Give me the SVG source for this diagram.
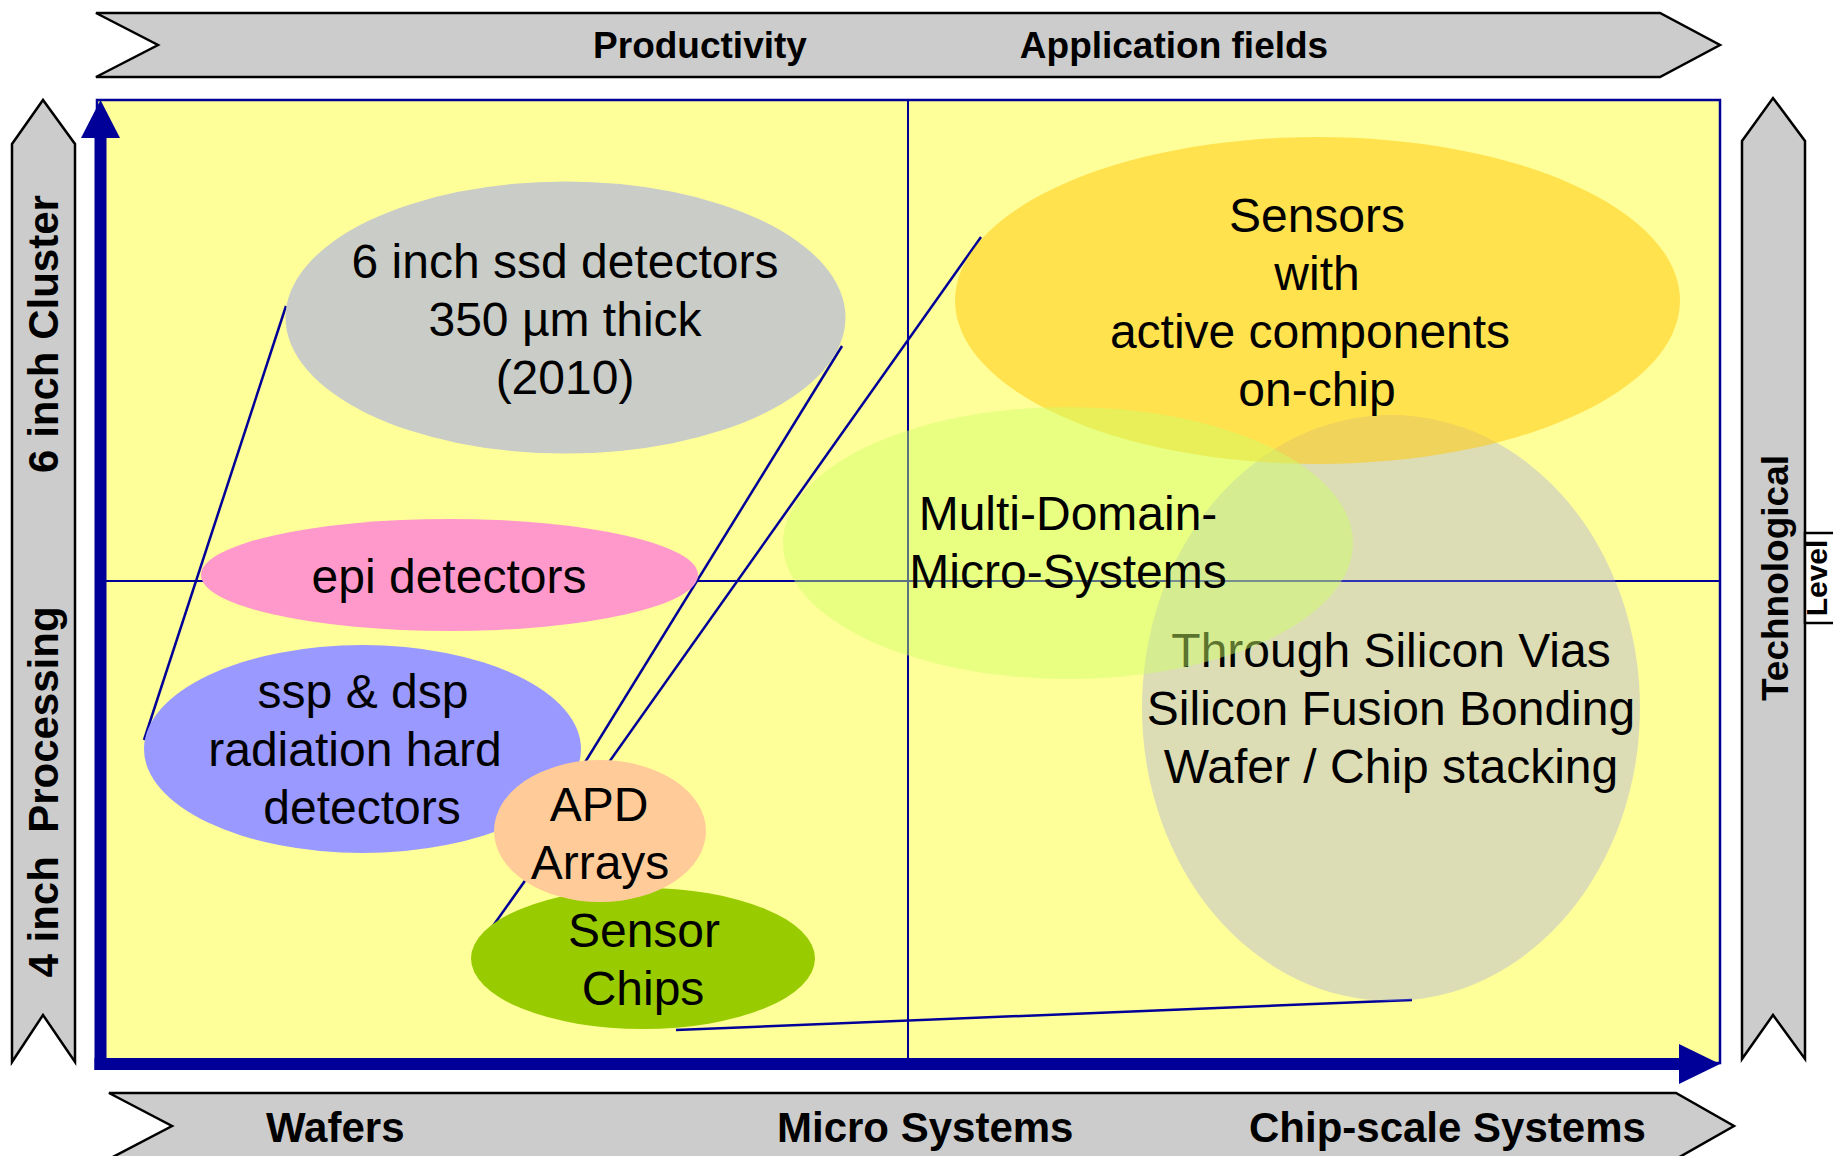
<svg xmlns="http://www.w3.org/2000/svg" width="1833" height="1156" viewBox="0 0 1833 1156">
<style>
.banner{fill:#CCCCCC;stroke:#000;stroke-width:2.5;stroke-linejoin:miter}
.bt{font-family:"Liberation Sans",Arial,Helvetica,sans-serif;font-weight:bold;fill:#000}
.lbl{font-family:"Liberation Sans",Arial,Helvetica,sans-serif;font-size:48px;fill:#000;text-anchor:middle}
.grid{stroke:#000099;stroke-width:2;fill:none}
.conn{stroke:#000099;stroke-width:2.5;fill:none}
.axis{stroke:#000099;stroke-width:12;fill:none}
.head{fill:#000099}
</style>
<rect width="1833" height="1156" fill="#FFFFFF"/>

<g id="banner-top">
<polygon class="banner" points="96,13 1660,13 1720,45 1660,77 96,77 158,45"/>
<text class="bt" font-size="37" x="700" y="58" text-anchor="middle">Productivity</text>
<text class="bt" font-size="37" x="1174" y="58" text-anchor="middle">Application fields</text>
</g>

<g id="banner-bottom">
<polygon class="banner" points="109,1093 1676,1093 1734,1126 1676,1159 109,1159 172,1126"/>
<text class="bt" font-size="42" x="266" y="1142">Wafers</text>
<text class="bt" font-size="42" x="777" y="1142">Micro Systems</text>
<text class="bt" font-size="42" x="1249" y="1142">Chip-scale Systems</text>
</g>

<g id="banner-left">
<polygon class="banner" points="12,144 43,100 75,144 75,1062 43,1015 12,1062"/>
<text class="bt" font-size="42" text-anchor="middle" transform="translate(58,334) rotate(-90)">6 inch Cluster</text>
<text class="bt" font-size="42" text-anchor="middle" transform="translate(58,792) rotate(-90)">4 inch&#160; Processing</text>
</g>

<g id="banner-right">
<polygon class="banner" points="1742,141 1773,98 1805,141 1805,1059 1773,1015 1742,1059"/>
<text class="bt" font-size="37" text-anchor="middle" transform="translate(1788,578) rotate(-90)">Technological</text>
<path d="M1840,533 H1805 V623 H1840" fill="#FFFFFF" stroke="#000" stroke-width="2.5"/>
<text class="bt" font-size="30" text-anchor="middle" transform="translate(1826.5,578) rotate(-90)">Level</text>
</g>

<g id="plot">
<rect x="97" y="100" width="1623" height="963" fill="#FFFF99" stroke="#000099" stroke-width="2.5"/>
<line class="grid" x1="100" y1="581" x2="1720" y2="581"/>
<line class="grid" x1="908" y1="100" x2="908" y2="1063"/>
</g>

<g id="connectors">
<line class="conn" x1="286" y1="306" x2="144" y2="740"/>
<line class="conn" x1="842" y1="346" x2="584" y2="764"/>
<line class="conn" x1="981" y1="237" x2="488" y2="933"/>
<line class="conn" x1="676" y1="1030" x2="1412" y2="1000"/>
</g>

<g id="node-6inch">
<ellipse cx="565.5" cy="317.5" rx="280" ry="136" fill="#C9CCC7"/>
<text class="lbl" x="565" y="278">6 inch ssd detectors</text>
<text class="lbl" x="565" y="336">350 µm thick</text>
<text class="lbl" x="565" y="394">(2010)</text>
</g>

<g id="node-epi">
<ellipse cx="449.5" cy="575" rx="248.5" ry="56" fill="#FF99CC"/>
<text class="lbl" x="449" y="593">epi detectors</text>
</g>

<g id="node-ssp">
<ellipse cx="362.5" cy="749" rx="218.5" ry="104" fill="#9999FF"/>
<text class="lbl" x="363" y="708">ssp &amp; dsp</text>
<text class="lbl" x="355" y="766">radiation hard</text>
<text class="lbl" x="362" y="824">detectors</text>
</g>

<g id="node-sensorchips">
<ellipse cx="643" cy="958.5" rx="172" ry="70.5" fill="#99CC00"/>
<text class="lbl" x="644" y="947">Sensor</text>
<text class="lbl" x="643" y="1005">Chips</text>
</g>

<g id="node-apd">
<ellipse cx="600" cy="831" rx="106" ry="71" fill="#FFCC99"/>
<text class="lbl" x="599" y="821">APD</text>
<text class="lbl" x="600" y="879">Arrays</text>
</g>

<g id="node-tsv">
<ellipse cx="1391" cy="708" rx="249" ry="293" fill="#9999F0" fill-opacity="0.33"/>
<text class="lbl" x="1391" y="667">Through Silicon Vias</text>
<text class="lbl" x="1391" y="725">Silicon Fusion Bonding</text>
<text class="lbl" x="1391" y="783">Wafer / Chip stacking</text>
</g>

<g id="node-sensors">
<ellipse cx="1317.5" cy="300.5" rx="362.5" ry="163.5" fill="#FFCA11" fill-opacity="0.55"/>
<text class="lbl" x="1317" y="232">Sensors</text>
<text class="lbl" x="1317" y="290">with</text>
<text class="lbl" x="1310" y="348">active components</text>
<text class="lbl" x="1317" y="406">on-chip</text>
</g>

<g id="node-multidomain">
<ellipse cx="1068" cy="543" rx="285" ry="136" fill="#CCFF66" fill-opacity="0.45"/>
<text class="lbl" x="1068" y="530">Multi-Domain-</text>
<text class="lbl" x="1068" y="588">Micro-Systems</text>
</g>

<g id="axes">
<line class="axis" x1="100.5" y1="1070" x2="100.5" y2="136"/>
<polygon class="head" points="81,138 100.5,100 120,138"/>
<line class="axis" x1="94.5" y1="1064" x2="1681" y2="1064"/>
<polygon class="head" points="1679,1044 1720,1064 1679,1084"/>
</g>
</svg>
